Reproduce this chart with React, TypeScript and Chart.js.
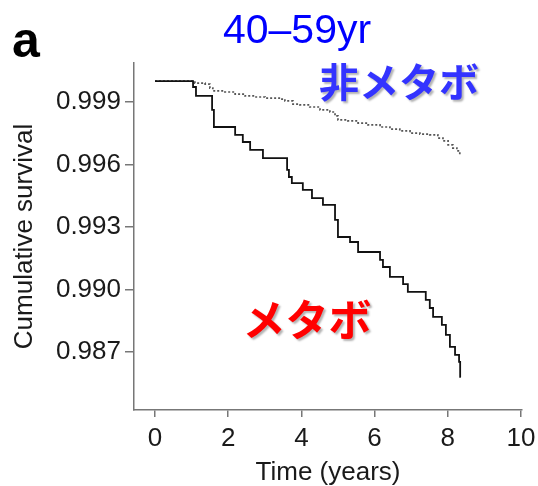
import React, { useEffect, useRef } from "react";
import { Chart, registerables } from "chart.js";

Chart.register(...registerables);

// Metabolic syndrome group (solid step curve)
const metaboTimes = [0, 1.04, 1.12, 1.56, 1.61, 2.19, 2.40, 2.60, 2.95, 3.61, 3.66, 3.74, 4.04, 4.29, 4.59, 4.92, 5.00, 5.33, 5.55, 6.15, 6.23, 6.42, 6.78, 6.91, 7.40, 7.51, 7.60, 7.84, 7.95, 8.06, 8.20, 8.31, 8.34, 8.36];
const metaboSurvival = [1.0, 0.99972, 0.99929, 0.99862, 0.9978, 0.99742, 0.99708, 0.9967, 0.99631, 0.99574, 0.9954, 0.99511, 0.99478, 0.99439, 0.99406, 0.99334, 0.99252, 0.99228, 0.9918, 0.99142, 0.99108, 0.9906, 0.99026, 0.98988, 0.9895, 0.98911, 0.98868, 0.9883, 0.98782, 0.98724, 0.98686, 0.98652, 0.9858, 0.9858];

// Non-metabolic syndrome group (dotted step curve)
const nonMetaboTimes = [0, 1.09, 1.37, 1.50, 1.58, 1.91, 2.19, 2.46, 2.73, 3.01, 3.42, 3.55, 3.77, 3.96, 4.23, 4.51, 4.78, 4.92, 5.00, 5.27, 5.55, 5.82, 6.15, 6.42, 6.69, 6.97, 7.24, 7.51, 7.73, 7.87, 8.01, 8.14, 8.25, 8.33, 8.36];
const nonMetaboSurvival = [1.0, 0.99991, 0.99986, 0.99967, 0.99953, 0.99948, 0.99938, 0.99929, 0.99924, 0.99919, 0.99914, 0.99905, 0.9989, 0.99886, 0.99876, 0.99862, 0.99852, 0.99833, 0.99814, 0.99809, 0.99799, 0.9979, 0.9978, 0.9977, 0.99761, 0.99751, 0.99746, 0.99742, 0.99727, 0.99713, 0.99694, 0.99679, 0.99665, 0.99646, 0.99646];

const xTickValues = [0, 2, 4, 6, 8, 10];
const yTickValues = [0.987, 0.99, 0.993, 0.996, 0.999];

const panelLabel = "a";
const ageLabel = "40–59yr";
const nonMetaboLabel = "非メタボ";
const metaboLabel = "メタボ";
const xTitle = "Time (years)";
const yTitle = "Cumulative survival";

const annotationPlugin = {
  id: "annotations",
  afterDraw(chart: any) {
    const ctx = chart.ctx;
    ctx.save();
    ctx.textAlign = "left";
    ctx.textBaseline = "alphabetic";
    ctx.fillStyle = "#000";
    ctx.font = "bold 50px 'Liberation Sans', Arial, sans-serif";
    ctx.fillText(panelLabel, 12, 57);

    ctx.textAlign = "center";
    ctx.fillStyle = "#0000ff";
    ctx.font = "41px 'Liberation Sans', Arial, sans-serif";
    ctx.fillText(ageLabel, 297, 43);

    ctx.shadowColor = "rgba(0,0,0,0.3)";
    ctx.shadowOffsetX = 2;
    ctx.shadowOffsetY = 2;
    ctx.shadowBlur = 2;
    ctx.textBaseline = "middle";
    ctx.fillStyle = "#3333ff";
    ctx.font = "bold 40px 'Noto Sans CJK JP', sans-serif";
    ctx.fillText(nonMetaboLabel, 399, 82);

    ctx.fillStyle = "#ff0000";
    ctx.font = "bold 43px 'Noto Sans CJK JP', sans-serif";
    ctx.fillText(metaboLabel, 307, 320);
    ctx.restore();
  },
};

export default function App() {
  const canvasRef = useRef<HTMLCanvasElement | null>(null);

  useEffect(() => {
    if (!canvasRef.current) return;
    const metaboData = metaboTimes.map((t, i) => ({ x: t, y: metaboSurvival[i] }));
    const nonMetaboData = nonMetaboTimes.map((t, i) => ({ x: t, y: nonMetaboSurvival[i] }));
    const axisColor = "#777";
    const tickFont = { family: "'Liberation Sans', Arial, sans-serif", size: 26 };
    const titleFont = { family: "'Liberation Sans', Arial, sans-serif", size: 26, lineHeight: 1.0 };

    const chart = new Chart(canvasRef.current, {
      type: "line",
      data: {
        datasets: [
          {
            label: "メタボ",
            data: metaboData,
            stepped: "before",
            borderColor: "#111",
            borderWidth: 1.8,
            pointRadius: 0,
            fill: false,
            order: 0,
          },
          {
            label: "非メタボ",
            data: nonMetaboData,
            stepped: "before",
            borderColor: "#555",
            borderWidth: 1.7,
            borderDash: [2, 2],
            pointRadius: 0,
            fill: false,
            order: 1,
          },
        ],
      },
      options: {
        responsive: false,
        animation: false,
        layout: { padding: { top: 63, right: 16, left: 0, bottom: 0 } },
        plugins: {
          legend: { display: false },
          tooltip: { enabled: false },
          title: { display: false },
        },
        scales: {
          x: {
            type: "linear",
            min: -0.574,
            max: 10.03,
            afterBuildTicks: (scale: any) => {
              scale.ticks = xTickValues.map((v) => ({ value: v }));
            },
            afterFit: (scale: any) => {
              scale.height = 76;
              scale.paddingLeft = 0;
              scale.paddingRight = 0;
            },
            ticks: {
              color: "#1a1a1a",
              font: tickFont,
              padding: 6,
              maxRotation: 0,
              callback: (v: any) => String(v),
            },
            grid: {
              display: true,
              drawOnChartArea: false,
              drawTicks: true,
              tickLength: 7,
              color: axisColor,
              lineWidth: 1.5,
            },
            border: { display: true, color: axisColor, width: 1.5 },
            title: {
              display: true,
              text: xTitle,
              color: "#1a1a1a",
              font: titleFont,
              padding: { top: 0, bottom: 0 },
            },
          },
          y: {
            type: "linear",
            min: 0.984214,
            max: 1.000872,
            afterBuildTicks: (scale: any) => {
              scale.ticks = yTickValues.map((v) => ({ value: v }));
            },
            afterFit: (scale: any) => {
              scale.width = 134;
              scale.paddingTop = 0;
              scale.paddingBottom = 0;
            },
            ticks: {
              color: "#1a1a1a",
              font: tickFont,
              padding: 4,
              callback: (v: any) => Number(v).toFixed(3),
            },
            grid: {
              display: true,
              drawOnChartArea: false,
              drawTicks: true,
              tickLength: 9,
              color: axisColor,
              lineWidth: 1.5,
            },
            border: { display: true, color: axisColor, width: 1.5 },
            title: {
              display: true,
              text: yTitle,
              color: "#1a1a1a",
              font: titleFont,
              padding: { top: 12, bottom: 0 },
            },
          },
        },
      },
      plugins: [annotationPlugin],
    });
    return () => chart.destroy();
  }, []);

  return (
    <div style={{ position: "fixed", left: 0, top: 0, width: 538, height: 486, background: "#fff" }}>
      <canvas ref={canvasRef} width={538} height={486} style={{ display: "block" }} />
    </div>
  );
}
